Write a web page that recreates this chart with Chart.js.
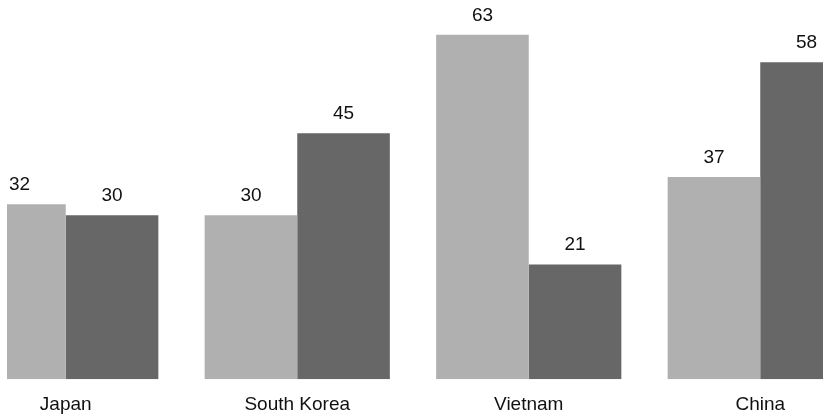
<!DOCTYPE html>
<html>
<head>
<meta charset="utf-8">
<script src="https://cdn.jsdelivr.net/npm/chart.js@4.4.1/dist/chart.umd.min.js"></script>
<style>
  html, body { margin: 0; padding: 0; background: #ffffff; overflow: hidden; }
  #frame { position: absolute; left: 7px; top: 0; width: 816px; height: 415px; overflow: hidden; }
  #chart { position: absolute; left: -57px; top: 0; }
</style>
</head>
<body>
<div id="frame"><canvas id="chart" width="926" height="430"></canvas></div>
<script>
const categories = ['Japan', 'South Korea', 'Vietnam', 'China'];
const seriesA = [32, 30, 63, 37];
const seriesB = [30, 45, 21, 58];

// Writes each bar's value just above its top edge
const valueLabels = {
  id: 'valueLabels',
  afterDatasetsDraw(chart) {
    const ctx = chart.ctx;
    ctx.save();
    ctx.font = '19px "Liberation Sans", Arial, sans-serif';
    ctx.fillStyle = '#111111';
    ctx.textAlign = 'center';
    ctx.textBaseline = 'alphabetic';
    chart.data.datasets.forEach((ds, i) => {
      chart.getDatasetMeta(i).data.forEach((bar, j) => {
        ctx.fillText(String(ds.data[j]), bar.x, bar.y - 14);
      });
    });
    ctx.restore();
  }
};

new Chart(document.getElementById('chart'), {
  type: 'bar',
  data: {
    labels: categories,
    datasets: [
      { data: seriesA, backgroundColor: '#b0b0b0', borderWidth: 0 },
      { data: seriesB, backgroundColor: '#676767', borderWidth: 0 }
    ]
  },
  options: {
    responsive: false,
    animation: false,
    events: [],
    categoryPercentage: 0.8,
    barPercentage: 1.0,
    layout: { padding: { top: 2, left: 0, right: 0, bottom: 0 } },
    plugins: { legend: { display: false }, tooltip: { enabled: false } },
    scales: {
      x: {
        grid: { display: false, drawTicks: false },
        border: { display: false },
        ticks: {
          padding: 14,
          color: '#111111',
          font: { family: '"Liberation Sans", Arial, sans-serif', size: 19 }
        }
      },
      y: { display: false, min: 0, max: 69 }
    }
  },
  plugins: [valueLabels]
});
</script>
</body>
</html>
